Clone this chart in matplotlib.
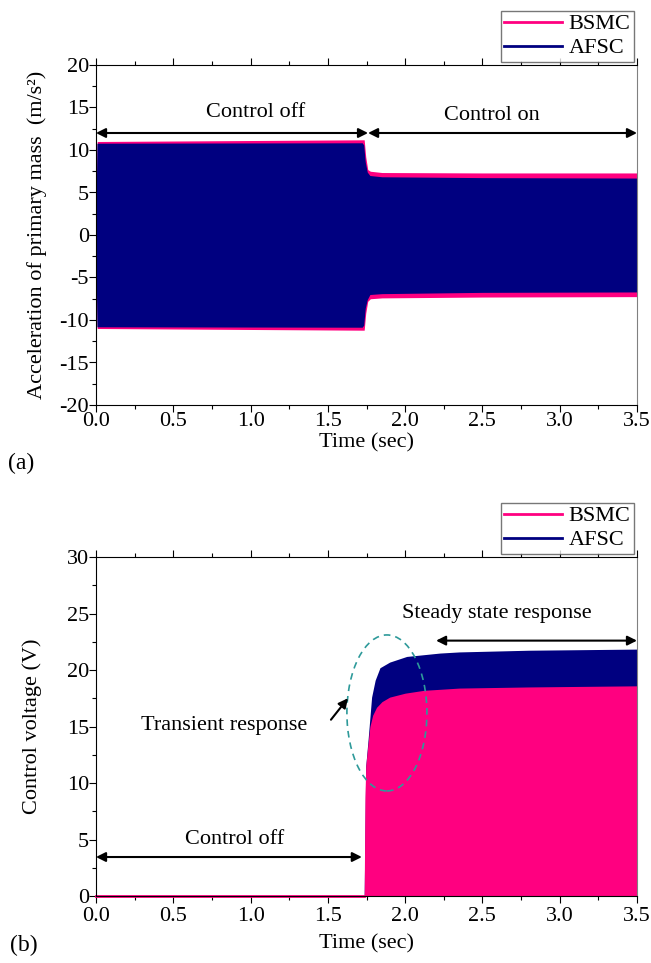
import numpy as np
import matplotlib.pyplot as plt
from matplotlib.patches import Ellipse
from matplotlib.transforms import ScaledTranslation
from matplotlib.ticker import MultipleLocator

plt.rcParams['font.family'] = ['Liberation Serif', 'DejaVu Serif']
plt.rcParams['font.size'] = 16
plt.rcParams['axes.unicode_minus'] = False

PINK = '#FF0080'
NAVY = '#000080'

# (a) acceleration envelopes of primary mass, m/s^2
t_acc_bsmc = [0.0, 0.008, 1.725, 1.735, 1.745, 1.758, 1.775, 1.85, 2.5, 3.5]
acc_bsmc_up = [3.0, 11.0, 11.2, 11.2, 9.2, 7.7, 7.5, 7.35, 7.3, 7.3]
acc_bsmc_lo = [-3.0, -11.0, -11.2, -11.2, -9.2, -7.8, -7.5, -7.4, -7.3, -7.25]

t_acc_afsc = [0.0, 0.006, 1.722, 1.732, 1.742, 1.755, 1.772, 1.85, 2.5, 3.5]
acc_afsc_up = [2.0, 10.8, 10.85, 10.6, 8.6, 7.4, 7.0, 6.85, 6.75, 6.7]
acc_afsc_lo = [-2.0, -10.8, -10.85, -10.6, -8.6, -7.6, -7.0, -6.9, -6.75, -6.7]

# (b) control voltage envelopes, V
t_volt_bsmc = [0.0, 1.735, 1.74, 1.745, 1.76, 1.772, 1.79, 1.815, 1.85, 1.9,
               2.0, 2.12, 2.35, 2.8, 3.5]
volt_bsmc = [0.0, 0.0, 8.7, 11.5, 13.5, 15.0, 16.0, 16.7, 17.2, 17.6,
             17.95, 18.2, 18.4, 18.5, 18.6]

t_volt_afsc = [0.0, 1.735, 1.745, 1.76, 1.783, 1.806, 1.837, 1.90, 2.01,
               2.225, 2.35, 2.8, 3.5]
volt_afsc = [0.0, 0.0, 11.5, 13.8, 17.6, 19.1, 20.2, 20.7, 21.2,
             21.5, 21.6, 21.75, 21.85]

x_ticks = [0.0, 0.5, 1.0, 1.5, 2.0, 2.5, 3.0, 3.5]
x_ticklabels = ['0.0', '0.5', '1.0', '1.5', '2.0', '2.5', '3.0', '3.5']

fig = plt.figure(figsize=(6.51, 9.63), dpi=100)
ax1 = fig.add_axes([96 / 651, 1 - 405 / 963, 541 / 651, 340 / 963])
ax2 = fig.add_axes([96 / 651, 1 - 896 / 963, 541 / 651, 339 / 963])


def style_axes(ax, xpad, tickpad):
    ax.set_xlim(0, 3.5)
    ax.set_xticks(x_ticks)
    ax.set_xticklabels(x_ticklabels)
    ax.xaxis.set_minor_locator(MultipleLocator(0.25))
    ax.yaxis.set_minor_locator(MultipleLocator(2.5))
    ax.tick_params(which='major', direction='out', length=5, width=0.8, pad=0)
    ax.tick_params(which='minor', direction='out', length=3, width=0.8)
    ax.tick_params(axis='x', which='major', pad=tickpad)
    ax.tick_params(axis='x', which='both', top=True)
    ax.spines['right'].set_color('#808080')
    ax.set_xlabel('Time (sec)', labelpad=xpad)


def add_legend(ax):
    h1, = ax.plot([], [], color=PINK, lw=2, label='BSMC')
    h2, = ax.plot([], [], color=NAVY, lw=2, label='AFSC')
    ax.legend(handles=[h1, h2], loc='lower right', bbox_to_anchor=(1.0, 1.0),
              fontsize=16, frameon=True, fancybox=False, edgecolor='#555555',
              borderaxespad=0.15, handlelength=2.6, handletextpad=0.3,
              borderpad=0.15, labelspacing=0.15)


def double_arrow(ax, x0, x1, y):
    ax.annotate('', xy=(x1, y), xytext=(x0, y),
                arrowprops=dict(arrowstyle='<|-|>', color='black', lw=1.5,
                                mutation_scale=14, shrinkA=0, shrinkB=0))


# ---- panel (a)
ax1.fill_between(t_acc_bsmc, acc_bsmc_lo, acc_bsmc_up, color=PINK, lw=0)
ax1.fill_between(t_acc_afsc, acc_afsc_lo, acc_afsc_up, color=NAVY, lw=0)
ax1.set_ylim(-20, 20)
ax1.set_yticks(np.arange(-20, 21, 5))
style_axes(ax1, xpad=2, tickpad=0)
ax1.set_ylabel('Acceleration of primary mass  (m/s²)')
ax1.yaxis.set_label_coords(-0.09, 0.5)
add_legend(ax1)
double_arrow(ax1, 0.0, 1.76, 12.0)
double_arrow(ax1, 1.76, 3.5, 12.0)
ax1.text(1.03, 14.4, 'Control off', ha='center', va='center')
ax1.text(2.56, 14.0, 'Control on', ha='center', va='center')

# ---- panel (b)
ax2.fill_between(t_volt_afsc, 0, volt_afsc, color=NAVY, lw=0)
ax2.fill_between(t_volt_bsmc, 0, volt_bsmc, color=PINK, lw=0)
ax2.plot(t_volt_bsmc[:2], volt_bsmc[:2], color=PINK, lw=2, clip_on=False)
ax2.set_ylim(0, 30)
ax2.set_yticks(np.arange(0, 31, 5))
style_axes(ax2, xpad=6, tickpad=3)
ax2.set_ylabel('Control voltage (V)')
ax2.yaxis.set_label_coords(-0.10, 0.5)
add_legend(ax2)
double_arrow(ax2, 0.0, 1.72, 3.45)
ax2.text(0.90, 5.0, 'Control off', ha='center', va='center')
double_arrow(ax2, 2.20, 3.5, 22.6)
ax2.text(2.59, 25.0, 'Steady state response', ha='center', va='center')
ax2.text(0.83, 15.1, 'Transient response', ha='center', va='center')
ax2.annotate('', xy=(1.63, 17.5), xytext=(1.52, 15.6),
             arrowprops=dict(arrowstyle='-|>', color='black', lw=1.5,
                             mutation_scale=14, shrinkA=0, shrinkB=0))

# dashed ring around the transient, sized in inches, centred in data coords
ring = Ellipse((0, 0), 0.80, 1.56, angle=0, fill=False, ls=(0, (4, 3)),
               lw=1.2, color='#2E9A9A',
               transform=fig.dpi_scale_trans + ScaledTranslation(1.882, 16.2, ax2.transData))
ax2.add_patch(ring)

fig.text(8 / 651, 1 - 463 / 963, '(a)', ha='left', va='center', fontsize=17)
fig.text(10 / 651, 1 - 945 / 963, '(b)', ha='left', va='center', fontsize=17)

fig.savefig('out.png', dpi=100)
